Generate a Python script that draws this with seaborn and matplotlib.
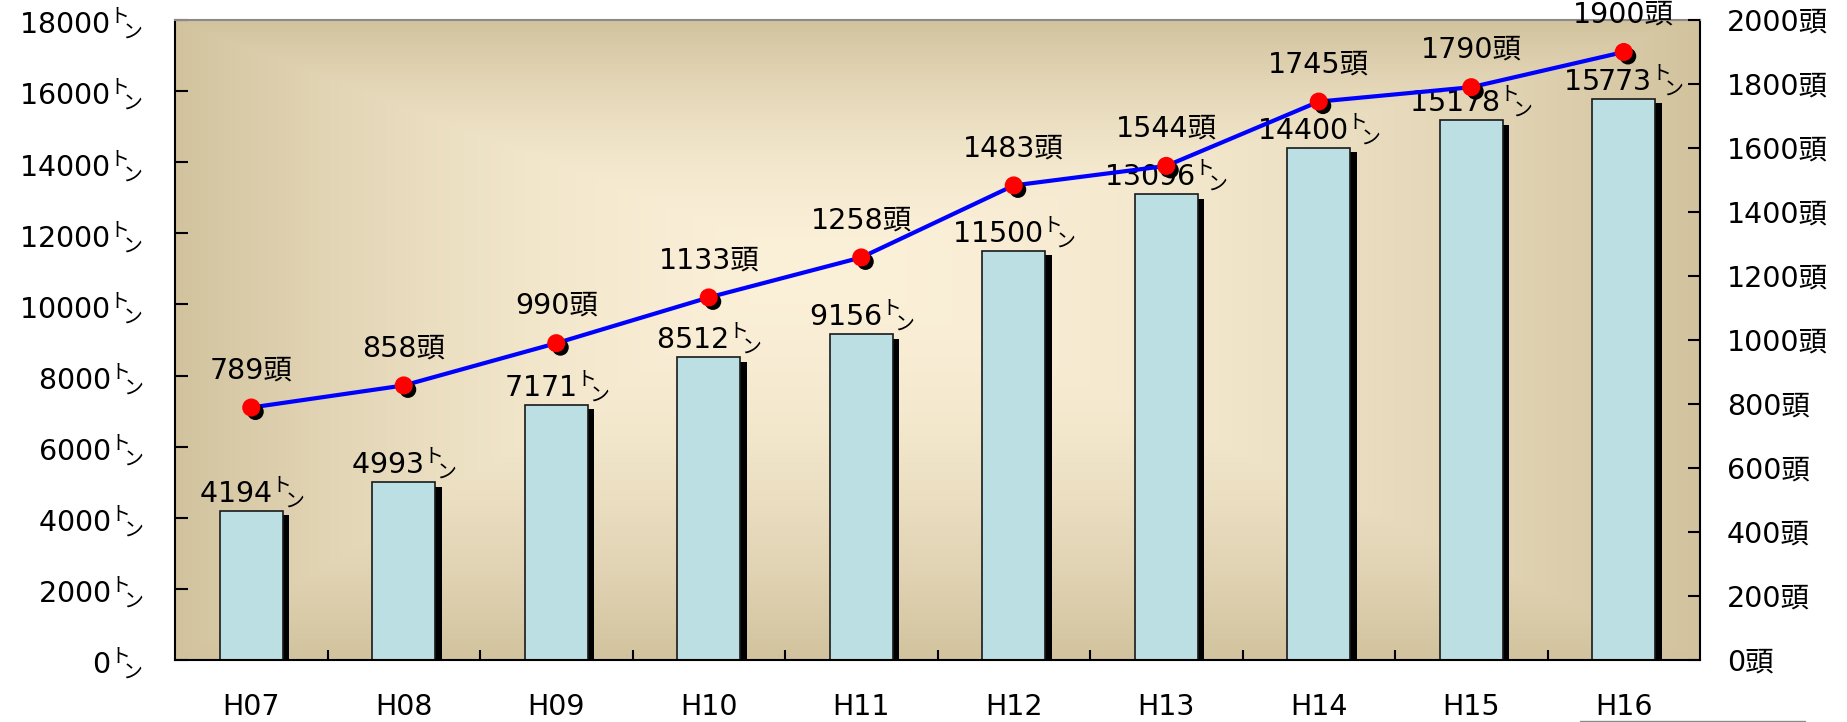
import matplotlib
matplotlib.use("Agg")
import matplotlib.pyplot as plt
import matplotlib.patheffects as pe
from matplotlib.ticker import FuncFormatter, MultipleLocator, FixedLocator
from matplotlib.lines import Line2D
import numpy as np
import pandas as pd
import seaborn as sns

# data
years = ["H07", "H08", "H09", "H10", "H11", "H12", "H13", "H14", "H15", "H16"]
tons = [4194, 4993, 7171, 8512, 9156, 11500, 13096, 14400, 15178, 15773]
heads = [789, 858, 990, 1133, 1258, 1483, 1544, 1745, 1790, 1900]

sns.set_style("white")
plt.rcParams['font.family'] = ['DejaVu Sans', 'Noto Sans CJK JP']
plt.rcParams['font.size'] = 20.5
plt.rcParams['text.color'] = 'black'
plt.rcParams['xtick.color'] = 'black'
plt.rcParams['ytick.color'] = 'black'
# small raised "ト" + lowered "ン" unit, drawn via mathtext
plt.rcParams['mathtext.fontset'] = 'custom'
for k in ['rm', 'it', 'bf', 'sf']:
    plt.rcParams['mathtext.' + k] = 'Noto Sans CJK JP'
fs = 20.5
TON = r"$^{\mathrm{ト}}\!\!{}_{\mathrm{ン}}$"

df = pd.DataFrame({"year": years, "tons": tons, "heads": heads})

fig = plt.figure(figsize=(18.47, 7.22), dpi=100)
ax = fig.add_axes([175/1847, 62/722, 1525/1847, 640/722])

# rectangular "from center" gradient background
ny, nx = 300, 700
X, Y = np.meshgrid(np.linspace(0, 1, nx), np.linspace(0, 1, ny))
cx, cy = 0.42, 0.62
tx = np.where(X < cx, (cx - X) / cx, (X - cx) / (1 - cx))
ty = np.where(Y < cy, (cy - Y) / cy, (Y - cy) / (1 - cy))
t = np.maximum(tx, ty)
c0 = np.array([251, 240, 216]) / 255
c1 = np.array([210, 195, 158]) / 255
img = c0 + (c1 - c0) * (t[..., None] ** 1.8)
ax.imshow(img, extent=[0, 1, 0, 1], transform=ax.transAxes, origin='lower',
          aspect='auto', zorder=0, interpolation='bilinear')

# bars with hard black shadow
sns.barplot(data=df, x="year", y="tons", ax=ax, color="#bbdfe3", width=0.41,
            edgecolor="#1a1a1a", linewidth=1.2, saturation=1, zorder=2)
for p in ax.patches:
    p.set_path_effects([pe.withSimplePatchShadow(offset=(5, -3), shadow_rgbFace='black', alpha=1)])

for i, v in enumerate(tons):
    ax.annotate(f"{v}" + TON, (i, v), xytext=(0, 6), textcoords="offset points",
                ha="center", va="baseline", fontsize=fs, color="black", zorder=3)

# head count line on the right axis
ax2 = ax.twinx()
xpos = np.arange(len(years))
sns.lineplot(x=xpos, y=heads, ax=ax2, color="#0000ff", lw=3)
ax2.plot(xpos, heads, ls="none", marker="o", ms=12, mfc="red", mec="red",
         path_effects=[pe.withSimplePatchShadow(offset=(3, -3), shadow_rgbFace='black', alpha=1)])
for i, v in enumerate(heads):
    ax2.annotate(f"{v}頭", (i, v), xytext=(0, 21), textcoords="offset points",
                 ha="center", va="baseline", fontsize=fs, color="black")

# axes
ax.set_xlim(-0.5, len(years) - 0.5)
ax.set_ylim(0, 18000)
ax2.set_ylim(0, 2000)
ax.yaxis.set_major_locator(MultipleLocator(2000))
ax2.yaxis.set_major_locator(MultipleLocator(200))
ax.yaxis.set_major_formatter(FuncFormatter(lambda v, p: f"{int(v)}" + TON))
ax2.yaxis.set_major_formatter(FuncFormatter(lambda v, p: f"{int(v)}頭"))
ax.xaxis.set_minor_locator(FixedLocator(np.arange(0.5, len(years) - 1, 1)))

ax.tick_params(axis='y', direction='in', length=9, width=1.5, pad=23, labelsize=fs, left=True)
ax2.tick_params(axis='y', direction='in', length=9, width=1.5, pad=19.5, labelsize=fs, right=True)
ax.tick_params(axis='x', which='major', length=0, pad=24, labelsize=fs)
ax.tick_params(axis='x', which='minor', direction='in', length=7, width=1.5, bottom=True)

ax.set_xlabel("")
ax.set_ylabel("")
ax2.set_ylabel("")
ax2.set_xlabel("")

for sp in ['left', 'bottom', 'right']:
    ax.spines[sp].set(color='black', lw=1.5, visible=True)
ax.spines['top'].set(color='#8a8a8a', lw=1.5, visible=True)
for sp in ax2.spines.values():
    sp.set_visible(False)

fig.add_artist(Line2D([1580/1847, 1805/1847], [1.5/722, 1.5/722], color='#8a8a8a', lw=1))

fig.savefig("out.png", dpi=100)
